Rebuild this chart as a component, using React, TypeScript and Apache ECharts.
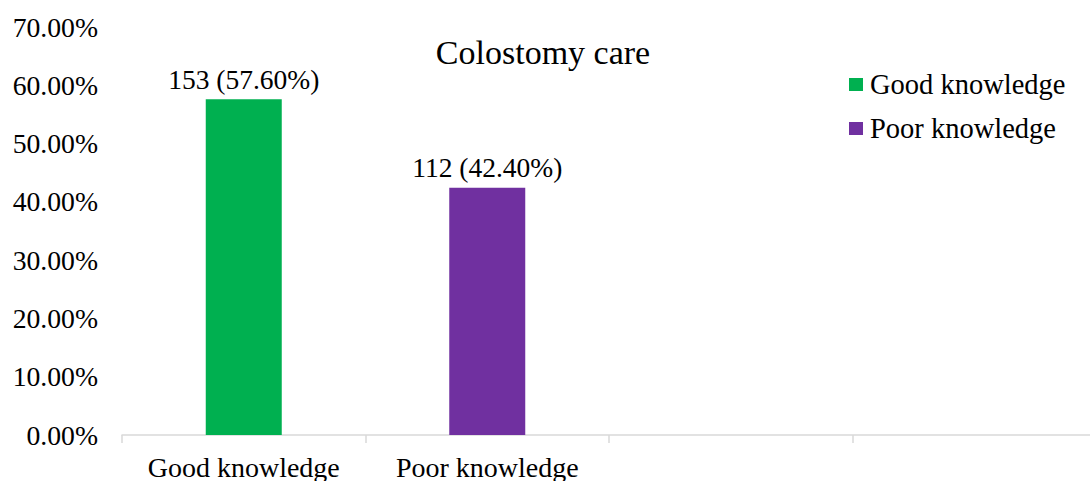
import React, { useEffect, useRef } from "react";
import * as echarts from "echarts";

const categories = ["Good knowledge", "Poor knowledge", "", ""];
const seriesNames = ["Good knowledge", "Poor knowledge"];
const percentValues = [57.6, 42.4];
const counts = [153, 112];
const yTicks = [0, 10, 20, 30, 40, 50, 60, 70];
const colors = ["#00B050", "#7030A0"];

const FONT = "'Liberation Serif', 'Times New Roman', serif";

export default function App() {
  const ref = useRef<HTMLDivElement>(null);
  useEffect(() => {
    if (!ref.current) return;
    const chart = echarts.init(ref.current, undefined, { renderer: "svg" });
    const series = seriesNames.map((name, i) => ({
      name,
      type: "bar",
      barWidth: 76,
      barGap: "-100%",
      itemStyle: { color: colors[i] },
      data: categories.map((_, j) => (j === i ? percentValues[i] : null)),
      label: {
        show: true,
        position: "top",
        distance: 6,
        color: "#000",
        fontFamily: FONT,
        fontSize: 27.5,
        formatter: () => `${counts[i]} (${percentValues[i].toFixed(2)}%)`,
      },
    }));
    chart.setOption({
      animation: false,
      backgroundColor: "#fff",
      title: {
        text: "Colostomy care",
        left: 538,
        textAlign: "center",
        top: 30,
        textStyle: { fontFamily: FONT, fontSize: 34, fontWeight: "normal", color: "#000" },
      },
      legend: {
        orient: "vertical",
        left: 849,
        top: 70,
        padding: 0,
        icon: "rect",
        itemWidth: 14,
        itemHeight: 13,
        itemGap: 15,
        data: seriesNames,
        textStyle: { fontFamily: FONT, fontSize: 28.5, color: "#000", padding: [0, 0, 0, 2] },
      },
      grid: { left: 122, top: 27, width: 974, height: 410, containLabel: false },
      xAxis: {
        type: "category",
        data: categories,
        axisLine: { lineStyle: { color: "#D9D9D9", width: 1.5 } },
        axisTick: { show: true, length: 8, lineStyle: { color: "#D9D9D9", width: 1.5 } },
        axisLabel: { interval: 0, margin: 18, color: "#000", fontFamily: FONT, fontSize: 28 },
      },
      yAxis: {
        type: "value",
        min: yTicks[0],
        max: yTicks[yTicks.length - 1],
        interval: 10,
        axisLine: { show: false },
        axisTick: { show: false },
        splitLine: { show: false },
        axisLabel: {
          margin: 24,
          color: "#000",
          fontFamily: FONT,
          fontSize: 27.7,
          formatter: (v: number) => `${v.toFixed(2)}%`,
        },
      },
      series,
    });
    return () => chart.dispose();
  }, []);
  return (
    <div
      style={{ position: "fixed", left: 0, top: 0, width: 1090, height: 481, overflow: "hidden", background: "#fff" }}
    >
      <div ref={ref} style={{ width: 1100, height: 481 }} />
    </div>
  );
}
